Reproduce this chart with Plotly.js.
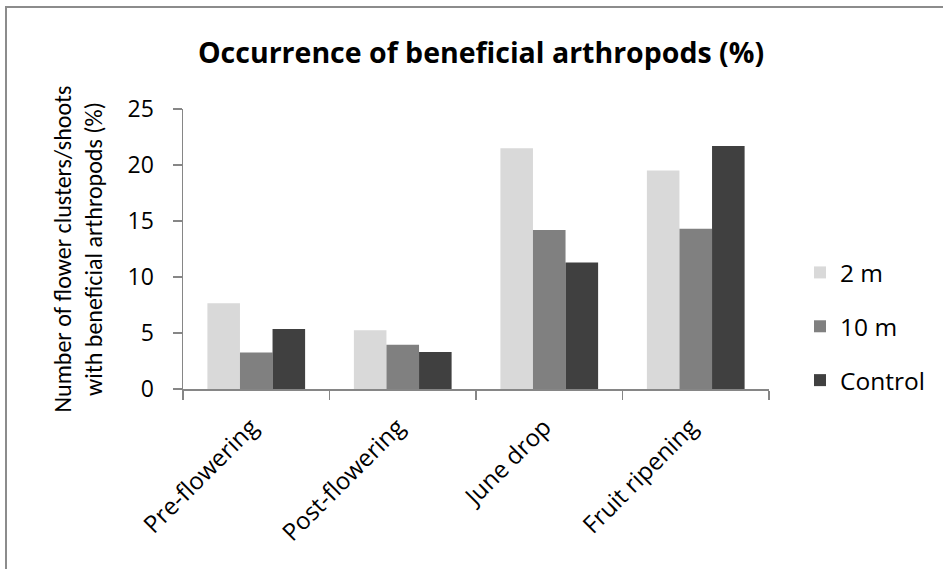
<!DOCTYPE html>
<html>
<head>
<meta charset="utf-8">
<script src="https://cdn.plot.ly/plotly-3.0.1.min.js"></script>
<style>html,body{margin:0;padding:0;background:#fff;}#chart{width:943px;height:569px;}</style>
</head>
<body>
<div id="chart"></div>
<script>
const categories = ["Pre-flowering", "Post-flowering", "June drop", "Fruit ripening"];
const seriesNames = ["2 m", "10 m", "Control"];
const values2m = [7.65, 5.25, 21.5, 19.5];
const values10m = [3.25, 3.95, 14.2, 14.3];
const valuesControl = [5.35, 3.3, 11.3, 21.7];
const yTicks = [0, 5, 10, 15, 20, 25];

const colors = ["#d9d9d9", "#808080", "#404040"];
const allValues = [values2m, values10m, valuesControl];
const FONT = "'Open Sans', 'Noto Sans', sans-serif";
const FONT_V = "Carlito, Lato, 'Open Sans', sans-serif";

const traces = allValues.map((v, i) => ({
  type: "bar",
  name: seriesNames[i],
  x: categories,
  y: v,
  marker: {color: colors[i], line: {width: 0}},
  legendgroup: "g" + i,
  hoverinfo: "x+y+name"
}));

const W = 943, H = 569, L = 183, R = 174, T = 109, B = 180;
const pw = W - L - R, ph = H - T - B;
const px2x = p => (p - L) / pw;
const px2y = p => (H - B - p) / ph;

const layout = {
  width: W, height: H,
  margin: {l: L, r: R, t: T, b: B, pad: 0},
  paper_bgcolor: "#fff", plot_bgcolor: "#fff",
  font: {family: FONT, size: 22, color: "#000"},
  barmode: "group",
  bargap: 0.333,
  bargroupgap: 0,
  title: {
    text: "<b>Occurrence of beneficial arthropods (%)</b>",
    font: {family: FONT, size: 28.5, color: "#000"},
    xref: "container", yref: "container",
    x: 481 / W, y: 1 - 53 / H, xanchor: "center", yanchor: "middle"
  },
  xaxis: {
    type: "category",
    showline: true, linecolor: "#868686", linewidth: 1.5,
    ticks: "outside", tickson: "boundaries", ticklen: 9, tickcolor: "#868686", tickwidth: 1.5,
    tickangle: -45,
    ticklabelstandoff: 13,
    ticklabelshift: -5,
    tickfont: {family: FONT, size: 24, color: "#000"},
    showgrid: false, zeroline: false, fixedrange: true
  },
  yaxis: {
    range: [0, 25],
    tickvals: yTicks,
    ticktext: yTicks.map(String),
    showline: true, linecolor: "#868686", linewidth: 1.5,
    ticks: "outside", ticklen: 9, tickcolor: "#868686", tickwidth: 1.5,
    ticklabelstandoff: 14,
    tickfont: {family: FONT, size: 23, color: "#000"},
    showgrid: false, zeroline: false, fixedrange: true,
    title: {
      text: "Number of flower clusters/shoots<br>with beneficial arthropods (%)",
      font: {family: FONT_V, size: 24, color: "#000"},
      standoff: 18
    }
  },
  legend: {
    x: 800 / W, xref: "container", xanchor: "left",
    y: 1 - 250 / H, yref: "container", yanchor: "top",
    font: {family: FONT, size: 24.5, color: "#000"},
    tracegroupgap: 19,
    itemwidth: 30,
    bgcolor: "rgba(0,0,0,0)"
  },
  shapes: [{
    type: "rect", xref: "paper", yref: "paper",
    x0: px2x(6), x1: px2x(960), y0: px2y(590), y1: px2y(7),
    line: {color: "#8c8c8c", width: 2}, fillcolor: "rgba(0,0,0,0)", layer: "below"
  }]
};

Plotly.newPlot("chart", traces, layout, {displayModeBar: false, staticPlot: true});
</script>
</body>
</html>
